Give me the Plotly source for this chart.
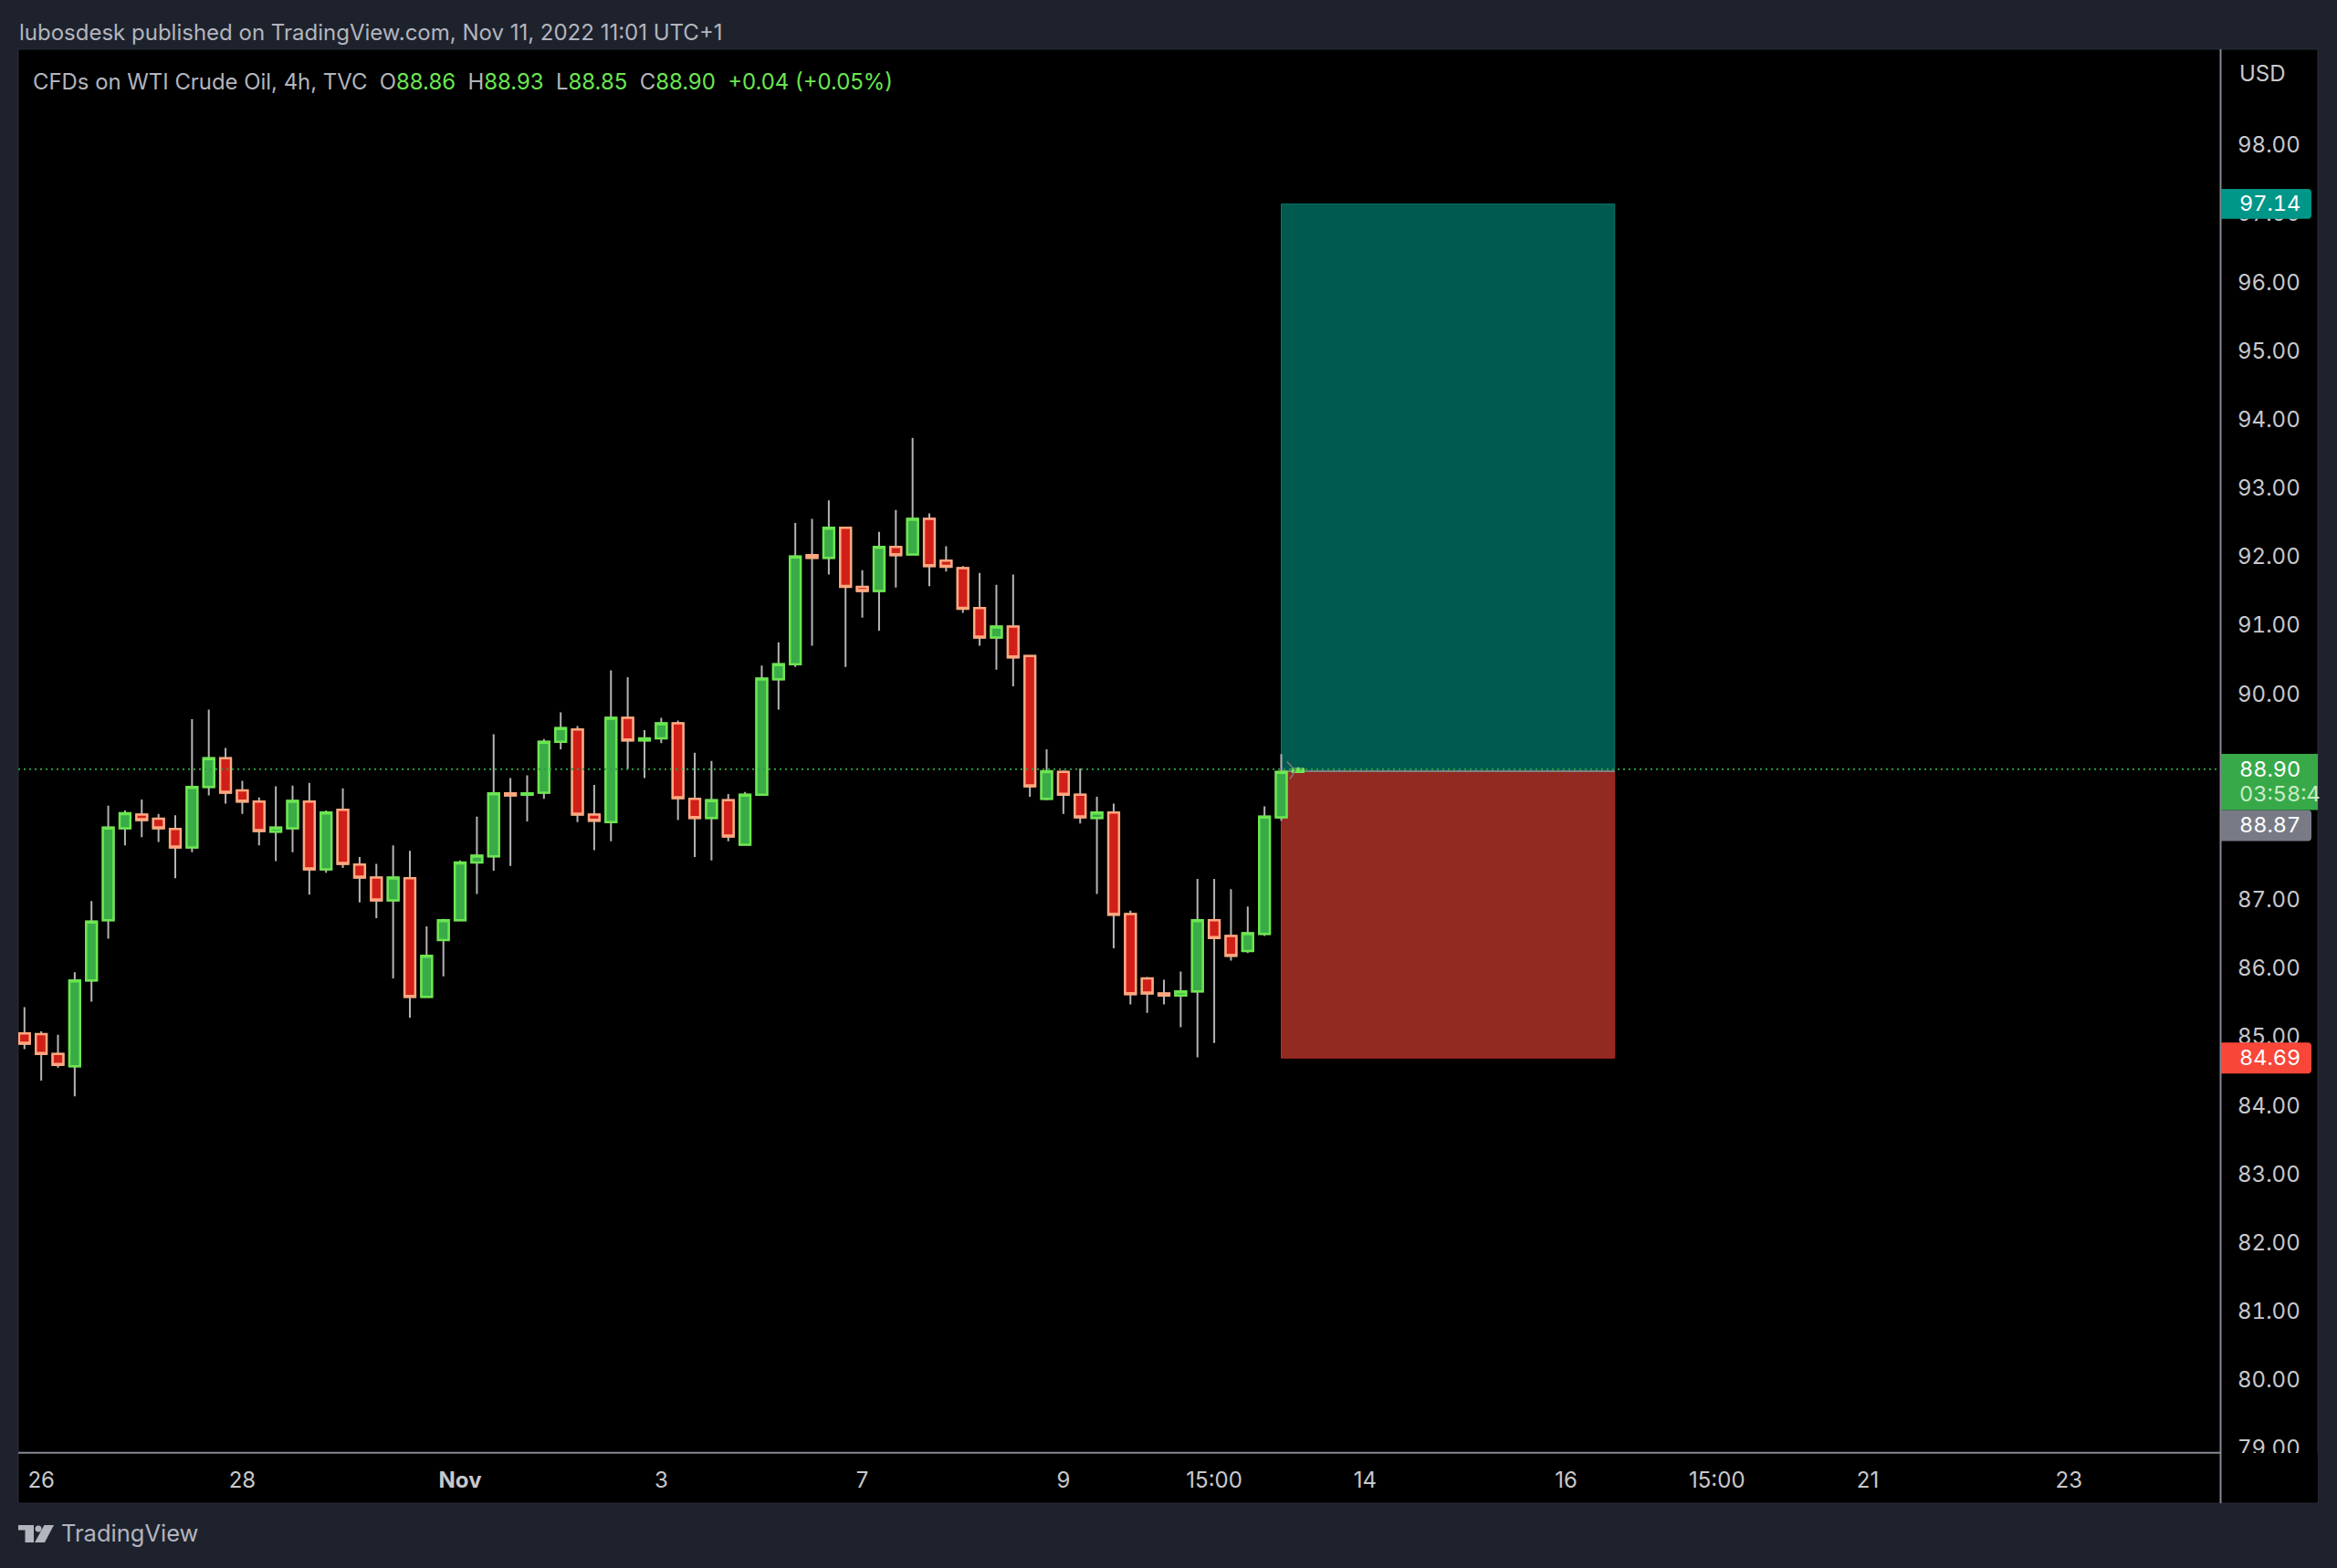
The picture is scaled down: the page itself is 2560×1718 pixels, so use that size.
import plotly.graph_objects as go

W, H = 2560, 1718
RENDERED_H = 1710  # height the page actually paints the figure at
BG = "#1e222d"
FONT = "Inter"
TXT = "#b2b5be"

# Each row: open, high, low, close of one 4h candle
opens = [85.05,85.04,84.75,84.57,85.82,86.70,88.04,88.24,88.18,88.03,87.76,88.64,89.06,88.59,88.43,87.99,88.04,88.43,87.44,88.31,87.51,87.32,86.99,87.31,85.58,86.41,86.70,87.54,87.63,88.55,88.53,88.56,89.30,89.48,88.24,88.13,89.65,89.32,89.35,89.57,88.47,88.19,88.45,87.80,88.53,90.21,90.43,92.02,91.98,92.42,91.56,91.50,92.14,92.03,92.55,91.94,91.83,91.25,90.82,90.98,90.55,88.47,88.86,88.53,88.19,88.27,86.79,85.85,85.63,85.60,85.66,86.70,86.47,86.25,86.50,88.20,88.86]
highs = [85.43,85.08,85.03,85.94,86.98,88.37,88.30,88.46,88.25,88.23,89.63,89.77,89.21,88.73,88.49,88.65,88.66,88.70,88.30,88.62,87.62,87.52,87.79,87.71,86.61,86.72,87.57,88.21,89.41,88.77,88.81,89.34,89.73,89.53,88.67,90.34,90.24,89.47,89.65,89.61,89.14,89.02,88.54,88.57,90.41,90.75,92.49,92.55,92.82,92.42,91.80,92.36,92.68,93.73,92.63,92.15,91.86,91.76,91.59,91.74,90.55,89.19,88.88,88.91,88.50,88.40,86.84,85.87,85.83,85.95,87.30,87.30,87.15,86.90,88.36,89.12,88.93]
lows = [84.82,84.36,84.55,84.13,85.51,86.43,87.79,87.91,87.84,87.31,87.69,88.52,88.40,88.25,87.79,87.56,87.69,87.07,87.39,87.46,86.96,86.73,85.85,85.28,85.58,85.88,86.70,87.08,87.42,87.49,88.14,88.47,89.19,88.13,87.72,87.85,88.90,88.77,89.28,88.16,87.62,87.57,87.85,87.80,88.52,89.77,90.39,90.70,91.74,90.39,91.11,90.92,91.55,92.03,91.57,91.78,91.18,90.70,90.35,90.11,88.50,88.45,88.25,88.11,87.08,86.29,85.47,85.35,85.47,85.14,84.70,84.91,86.11,86.22,86.47,88.15,88.85]
closes = [84.90,84.75,84.59,85.82,86.68,88.05,88.26,88.16,88.04,87.76,88.64,89.06,88.56,88.43,88.00,88.05,88.44,87.44,88.27,87.52,87.32,86.99,87.32,85.58,86.18,86.70,87.54,87.64,88.55,88.52,88.55,89.30,89.50,88.24,88.15,89.65,89.32,89.35,89.57,88.48,88.19,88.45,87.92,88.53,90.22,90.43,92.00,91.98,92.42,91.56,91.50,92.14,92.02,92.55,91.86,91.85,91.24,90.82,90.98,90.53,88.65,88.87,88.53,88.20,88.27,86.78,85.62,85.63,85.60,85.66,86.70,86.44,86.18,86.51,88.21,88.86,88.90]
candle_index = list(range(len(opens)))

last_price = 88.90
entry_price = 88.87
target_price = 97.14
stop_price = 84.69
position_start = 75
position_end = 94.9

y_ticks = list(range(79, 99))
y_tick_labels = [f"{v}.00" for v in y_ticks]
x_ticks = [1, 13, 26, 38, 50, 62, 71, 80, 92, 101, 110, 122]
x_tick_labels = ["26", "28", "<b>Nov</b>", "3", "7", "9", "15:00", "14", "16", "15:00", "21", "23"]

chevron_x = [75.34, 75.85, 75.52]
chevron_y = [89.01, 88.88, 88.76]


def px(x):
    return x / W


def py(y):
    return 1 - y / RENDERED_H


GREEN_FILL, GREEN_EDGE = "#39ab47", "#6ce650"
RED_FILL, RED_EDGE = "#d01f18", "#ffa880"
WICK = "#b4b4b4"

fig = go.Figure()

# wicks
fig.add_trace(go.Candlestick(
    x=candle_index, open=opens, high=highs, low=lows, close=closes,
    whiskerwidth=0, hoverinfo="skip", showlegend=False,
    increasing=dict(line=dict(color=WICK, width=2), fillcolor=WICK),
    decreasing=dict(line=dict(color=WICK, width=2), fillcolor=WICK),
))
# bodies
fig.add_trace(go.Candlestick(
    x=candle_index, open=opens, close=closes,
    high=[max(o, c) for o, c in zip(opens, closes)],
    low=[min(o, c) for o, c in zip(opens, closes)],
    whiskerwidth=0, hoverinfo="skip", showlegend=False,
    increasing=dict(line=dict(color=GREEN_EDGE, width=2.5), fillcolor=GREEN_FILL),
    decreasing=dict(line=dict(color=RED_EDGE, width=2.5), fillcolor=RED_FILL),
))
fig.add_trace(go.Scatter(
    x=chevron_x, y=chevron_y, mode="lines", hoverinfo="skip", showlegend=False,
    line=dict(color="#7d7d7d", width=1.5),
))

shapes = []
# black chart panel
shapes.append(dict(type="rect", xref="paper", yref="paper", layer="below",
                   x0=px(20), x1=px(2539), y0=py(54), y1=py(1648),
                   fillcolor="#000000", line=dict(color="#2a2e39", width=1)))
# long-position tool
shapes.append(dict(type="rect", xref="x", yref="y", layer="below",
                   x0=position_start, x1=position_end, y0=entry_price, y1=target_price,
                   fillcolor="#015a50", line=dict(color="#0b7367", width=1)))
shapes.append(dict(type="rect", xref="x", yref="y", layer="below",
                   x0=position_start, x1=position_end, y0=stop_price, y1=entry_price,
                   fillcolor="#922a22", line=dict(color="#b02c25", width=1)))
shapes.append(dict(type="line", xref="x", yref="y", layer="below",
                   x0=position_start, x1=position_end, y0=entry_price, y1=entry_price,
                   line=dict(color="#808080", width=2)))
# last price line
shapes.append(dict(type="line", xref="paper", yref="y", layer="above",
                   x0=px(20), x1=px(2432), y0=last_price, y1=last_price,
                   line=dict(color="#2f9e44", width=2, dash="2px,4px")))
# cover the clipped part of the lowest price label
shapes.append(dict(type="rect", xref="paper", yref="paper", layer="above",
                   x0=px(2433), x1=px(2539), y0=py(1593), y1=py(1647),
                   fillcolor="#000000", line=dict(width=0)))
# frame lines
shapes.append(dict(type="line", xref="paper", yref="paper", layer="above",
                   x0=px(2432.5), x1=px(2432.5), y0=py(54), y1=py(1648),
                   line=dict(color="#868993", width=2)))
shapes.append(dict(type="line", xref="paper", yref="paper", layer="above",
                   x0=px(20), x1=px(2432.5), y0=py(1592.7), y1=py(1592.7),
                   line=dict(color="#868993", width=2)))


def label_path(top, bottom, right=2532, r=4):
    xl, xr = px(2433), px(right)
    xq = px(right - r)
    t, b = py(top), py(bottom)
    t2, b2 = py(top + r), py(bottom - r)
    return (f"M {xl},{t} L {xq},{t} Q {xr},{t} {xr},{t2} L {xr},{b2} "
            f"Q {xr},{b} {xq},{b} L {xl},{b} Z")


for top, bottom, col in [(207, 240, "#009688"), (888, 922, "#787b86"), (1143, 1177, "#f84638")]:
    shapes.append(dict(type="path", xref="paper", yref="paper", layer="above",
                       path=label_path(top, bottom), fillcolor=col, line=dict(width=0)))
shapes.append(dict(type="rect", xref="paper", yref="paper", layer="above",
                   x0=px(2433), x1=px(2539), y0=py(826.5), y1=py(888),
                   fillcolor="#38a948", line=dict(width=0)))

# TradingView logo
for path_px in [
    [(20, 1672), (37, 1672), (37, 1691), (27.5, 1691), (27.5, 1677.5), (20, 1677.5)],
    [(48.5, 1672), (59, 1672), (49, 1691), (38, 1691)],
]:
    d = "M " + " L ".join(f"{px(a)},{py(b)}" for a, b in path_px) + " Z"
    shapes.append(dict(type="path", xref="paper", yref="paper", layer="above",
                       path=d, fillcolor=TXT, line=dict(width=0)))
shapes.append(dict(type="circle", xref="paper", yref="paper", layer="above",
                   x0=px(38.5), x1=px(45.5), y0=py(1672.5), y1=py(1679.5),
                   fillcolor=TXT, line=dict(width=0)))


def note(x, y, text, size=24, color=TXT, anchor="left"):
    return dict(xref="paper", yref="paper", x=px(x), y=py(y), text=text, showarrow=False,
                xanchor=anchor, yanchor="middle", align="left",
                font=dict(family=FONT, size=size, color=color))


G = "#6ce650"
g = lambda s: f'<span style="color:{G}">{s}</span>'
sp = "\u00a0"
legend = (f"CFDs on WTI Crude Oil, 4h, TVC{sp}{sp}O{g('88.86')}{sp}{sp}H{g('88.93')}{sp}{sp}"
          f"L{g('88.85')}{sp}{sp}C{g('88.90')}{sp}{sp}{g('+0.04 (+0.05%)')}")

annotations = [
    note(18.5, 36, "lubosdesk published on TradingView.com, Nov 11, 2022 11:01 UTC+1"),
    note(33.5, 90, legend, size=23.9),
    note(2450.5, 81, "USD", color="#c8c8cc"),
    note(2451, 223, "97.14", color="#ffffff", size=23.5),
    note(2451, 842.5, "88.90", color="#ffffff", size=23.5),
    note(2451, 870, "03:58:4", color="#c9ecc9", size=23.5),
    note(2451, 904.5, "88.87", color="#ffffff", size=23.5),
    note(2451, 1159, "84.69", color="#ffffff", size=23.5),
    note(64.5, 1680, "TradingView", size=25.5),
]

fig.update_layout(
    width=W, height=H, autosize=False,
    margin=dict(l=0, r=0, t=0, b=0),
    paper_bgcolor=BG, plot_bgcolor="#000000",
    shapes=shapes, annotations=annotations, showlegend=False,
    boxgap=0.357, boxgroupgap=0,
    xaxis=dict(
        domain=[px(20), px(2432)], range=[-0.37, 131.03], rangeslider=dict(visible=False),
        tickmode="array", tickvals=x_ticks, ticktext=x_tick_labels,
        showgrid=False, zeroline=False, ticks="", ticklabelstandoff=13,
        tickfont=dict(family=FONT, size=24, color="#c8c8cc"),
    ),
    yaxis=dict(
        domain=[py(1592.7), py(54)], range=[78.935, 99.396], side="right",
        tickmode="array", tickvals=y_ticks, ticktext=y_tick_labels,
        showgrid=False, zeroline=False, ticks="", ticklabelstandoff=18,
        tickfont=dict(family=FONT, size=24, color="#c8c8cc"),
    ),
)

tnum_sel = ".ytick text," + ",".join(f'.annotation[data-index="{i}"] text' for i in range(3, 8))
page_css = (
    "var r=document.documentElement.style,b=document.body.style;"
    "r.margin='0';r.padding='0';r.overflow='hidden';"
    "b.margin='0';b.padding='0';b.overflow='hidden';b.background='#1e222d';"
    "var s=document.createElement('style');"
    f"s.textContent='{tnum_sel.replace(chr(39), '')}{{font-feature-settings:\"tnum\"}}';"
    "document.head.appendChild(s);"
)
fig.write_html(
    "out.html",
    config={"responsive": False, "displayModeBar": False},
    post_script=page_css,
)
